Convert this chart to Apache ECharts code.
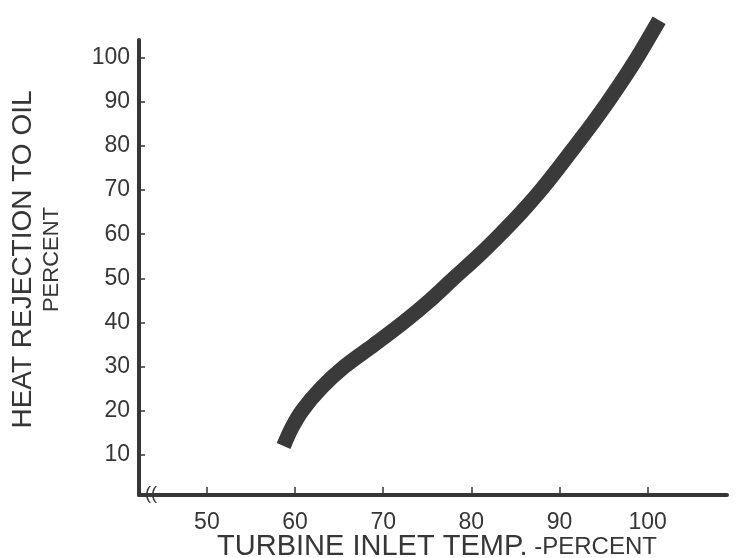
<!DOCTYPE html>
<html>
<head>
<meta charset="utf-8">
<script src="https://cdn.jsdelivr.net/npm/echarts@6/dist/echarts.min.js"></script>
<style>
  html, body { margin: 0; padding: 0; background: #fff; }
  #chart { width: 754px; height: 558px; }
</style>
</head>
<body>
<div id="chart"></div>
<script>
// 曲线数据
const tempX = [58.7, 59.6, 60.8, 62.9, 65.6, 69.0, 72.3, 75.3, 78.0, 80.75, 83.3, 85.7, 87.9, 89.9, 91.8, 93.7, 95.5, 97.2, 98.8, 101.3]
const heatY = [12, 16, 20, 25, 30, 35, 40, 45, 50, 55, 60, 65, 70, 75, 80, 85, 90, 95, 100, 108.5]
// 刻度
const xTicks = [50, 60, 70, 80, 90, 100]
const yTicks = [10, 20, 30, 40, 50, 60, 70, 80, 90, 100]

const ink = '#363636'
const font = 'Liberation Sans'

// 坐标点
const points = tempX.map((x, i) => [x, heatY[i]])

const option = {
  backgroundColor: '#fff',
  animation: false,
  grid: {
    left: 139,
    right: 27,
    top: 40,
    bottom: 63,
    outerBoundsMode: 'none'
  },
  // x轴 涡轮进口温度
  xAxis: {
    type: 'value',
    min: 42.3,
    max: 109,
    splitLine: { show: false },
    axisLine: { lineStyle: { color: ink, width: 4 } },
    axisTick: {
      inside: true,
      length: 8,
      customValues: xTicks,
      lineStyle: { color: ink, width: 1.5 }
    },
    axisLabel: {
      customValues: xTicks,
      margin: 16,
      color: ink,
      fontFamily: font,
      fontSize: 23
    },
    name: '{a|TURBINE INLET TEMP.}  {b|-PERCENT}',
    nameLocation: 'middle',
    nameGap: 37,
    nameMoveOverlap: false,
    nameTextStyle: {
      padding: [0, 0, 0, 8],
      rich: {
        a: { color: ink, fontFamily: font, fontSize: 29, lineHeight: 30 },
        b: { color: ink, fontFamily: font, fontSize: 24, lineHeight: 30 }
      }
    }
  },
  // y轴 散热量
  yAxis: {
    type: 'value',
    min: 0.9,
    max: 104,
    splitLine: { show: false },
    axisLine: { lineStyle: { color: ink, width: 4 } },
    axisTick: {
      inside: true,
      length: 6,
      customValues: yTicks,
      lineStyle: { color: ink, width: 1.5 }
    },
    axisLabel: {
      customValues: yTicks,
      margin: 9,
      color: ink,
      fontFamily: font,
      fontSize: 23
    },
    name: '{a|HEAT REJECTION TO OIL}\n{b|PERCENT}',
    nameLocation: 'middle',
    nameRotate: 90,
    nameGap: 73,
    nameMoveOverlap: false,
    nameTextStyle: {
      padding: [0, 0, 0, 16],
      rich: {
        a: { color: ink, fontFamily: font, fontSize: 28, lineHeight: 30, align: 'center' },
        b: { color: ink, fontFamily: font, fontSize: 22, lineHeight: 28, align: 'center' }
      }
    }
  },
  // 断轴符号
  graphic: [
    {
      type: 'text',
      left: 145,
      top: 485,
      style: { text: '((', fill: ink, font: '18px Liberation Sans' }
    }
  ],
  series: [
    {
      type: 'line',
      data: points,
      smooth: 0.3,
      clip: false,
      showSymbol: false,
      lineStyle: { color: '#3a3a3a', width: 15, cap: 'butt' }
    }
  ]
}

const chart = echarts.init(document.getElementById('chart'))
chart.setOption(option)
window.addEventListener('resize', chart.resize)
</script>
</body>
</html>
